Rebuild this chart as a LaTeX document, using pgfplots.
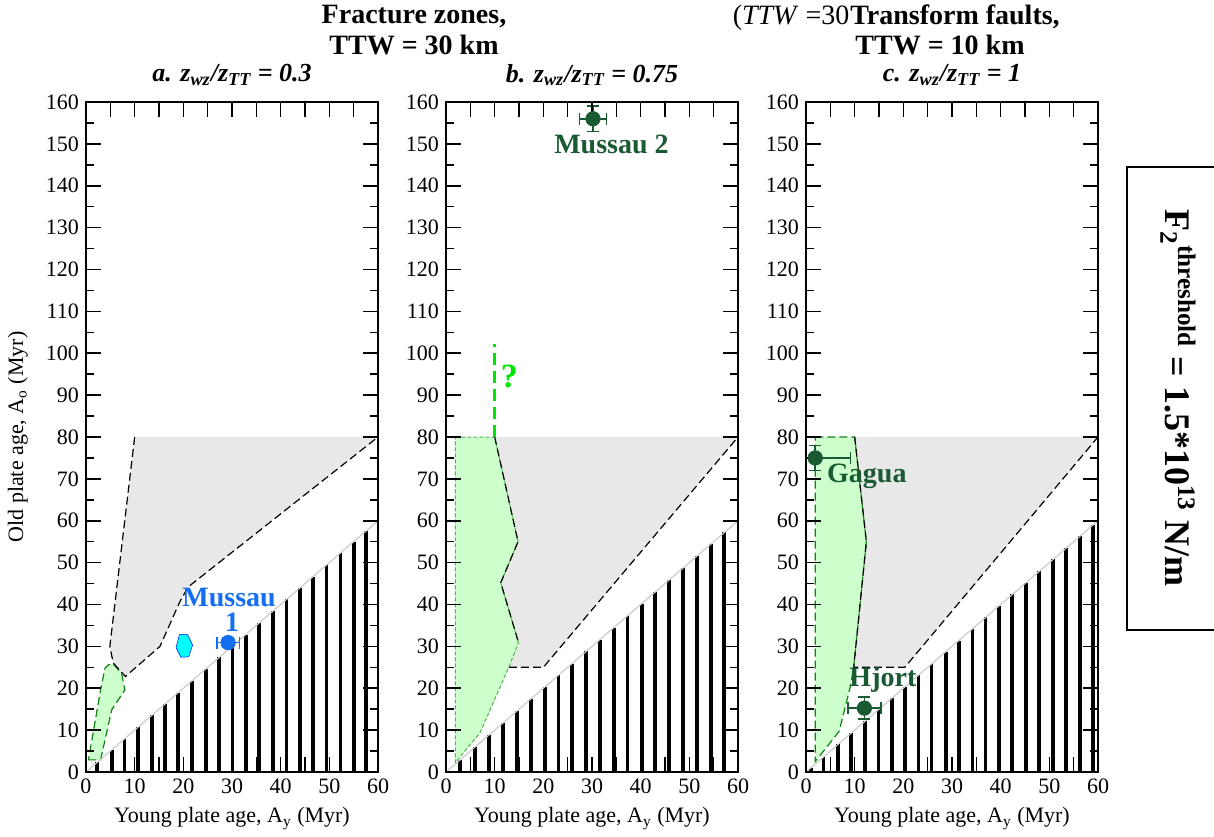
\documentclass[border=0pt]{standalone}
\usepackage{fontspec}
\setmainfont{Liberation Serif}
\usepackage{pgfplots}
\pgfplotsset{compat=1.18}
\definecolor{greyfill}{RGB}{232,232,232}
\definecolor{greenfill}{RGB}{204,255,204}
\definecolor{dkgreen}{RGB}{25,90,50}
\definecolor{bordergreen}{RGB}{20,130,20}
\definecolor{litegreen}{RGB}{80,180,80}
\definecolor{brightgreen}{RGB}{0,230,0}
\definecolor{myblue}{RGB}{20,110,240}
\definecolor{blobcyan}{RGB}{0,255,255}
\pgfplotsset{
  panel/.style={
    scale only axis, width=146pt, height=335pt,
    xmin=0, xmax=60, ymin=0, ymax=160,
    xtick={0,5,...,60}, xticklabels={0,,10,,20,,30,,40,,50,,60},
    ytick={0,10,...,160}, minor y tick num=1,
    major tick length=7.5pt, minor tick length=4pt,
    tick style={line width=0.8pt, black},
    axis line style={line width=1pt},
    tick label style={font=\fontsize{11}{13}\selectfont},
    /pgf/number format/assume math mode=true,
    xlabel={Young plate age, A\textsubscript{y} (Myr)},
    label style={font=\fontsize{11}{13}\selectfont},
    axis on top, clip=false,
  },
  bars/.style={ycomb, black, line width=1.9pt, mark=none},
  diag/.style={black!20, line width=0.6pt},
  bdash/.style={black, line width=0.6pt, dash pattern=on 4pt off 2pt},
  errs/.style={only marks, mark=*, mark size=3.6pt,
    error bars/.cd, x dir=both, x explicit, y dir=both, y explicit,
    error bar style={line width=0.8pt},
    error mark options={rotate=90, mark size=3pt, line width=0.8pt}},
}
\begin{document}
\begin{tikzpicture}
\useasboundingbox (0,0) rectangle (607pt,418pt);
% ---------------- panel a
\begin{axis}[panel, at={(43pt,32pt)}, anchor=south west,
  ylabel={Old plate age, A\textsubscript{o} (Myr)},
  ylabel style={at={(axis description cs:-0.233,0.5)}, anchor=center}]
\addplot[fill=greyfill, draw=none] coordinates {(10,80)(4.9,30)(5.6,26)(8.1,22.8)(15.2,30)(19.3,40.7)(21,44.2)(60,80)} -- cycle;
\addplot[fill=greenfill, draw=bordergreen, line width=0.6pt, dash pattern=on 4pt off 2pt] coordinates {(0.5,2.9)(3.0,2.9)(5.3,14.9)(8.0,19.6)(7.3,23.6)(5.6,25.8)(4.6,25.6)(3.9,24.8)(3.0,19.6)} -- cycle;
\addplot[bars] coordinates {(2.3,2.3)(5.3,5.3)(7.9,7.9)(10.7,10.7)(13.5,13.5)(16.2,16.2)(18.9,18.9)(21.7,21.7)(24.6,24.6)(27.4,27.4)(30.1,30.1)(32.8,32.8)(35.6,35.6)(38.4,38.4)(41.2,41.2)(43.9,43.9)(46.6,46.6)(49.4,49.4)(52.3,52.3)(55.0,55.0)(57.6,57.6)};
\addplot[diag] coordinates {(0,0)(60,60)};
\addplot[bdash] coordinates {(10,80)(4.9,30)(5.6,26)(8.1,22.8)(15.2,30)(19.3,40.7)(21,44.2)(60,80)};
\addplot[fill=blobcyan, draw=blue, line width=0.25pt] coordinates {(19.2,32.8)(20.9,32.8)(21.9,30.3)(21.1,27.5)(19.5,27.4)(18.5,29.7)} -- cycle;
\addplot[myblue, errs] coordinates {(29.2,30.9) +- (2.3,1.2)};
\node[myblue, font=\bfseries\fontsize{14}{14}\selectfont] at (axis cs:29.4,41.7) {Mussau};
\node[myblue, font=\bfseries\fontsize{14}{14}\selectfont] at (axis cs:30,35.7) {1};
\end{axis}
% ---------------- panel b
\begin{axis}[panel, at={(223pt,32pt)}, anchor=south west]
\addplot[fill=greyfill, draw=none] coordinates {(10,80)(14.8,55)(11.25,45.2)(14.9,30.9)(12.9,25)(20,25)(60,80)} -- cycle;
\addplot[fill=greenfill, draw=litegreen, line width=0.5pt, dash pattern=on 2pt off 1pt] coordinates {(1.9,80)(10,80)(14.8,55)(11.25,45.2)(14.9,30.9)(13,25.3)(7.0,9.4)(1.9,2.2)} -- cycle;
\addplot[bars] coordinates {(2.95,2.95)(6.0,6.0)(8.8,8.8)(11.7,11.7)(14.6,14.6)(17.4,17.4)(20.3,20.3)(23.1,23.1)(25.9,25.9)(28.8,28.8)(31.6,31.6)(34.5,34.5)(37.3,37.3)(40.2,40.2)(43.0,43.0)(45.9,45.9)(48.7,48.7)(51.5,51.5)(54.4,54.4)(57.2,57.2)};
\addplot[diag] coordinates {(0,0)(60,60)};
\addplot[bdash] coordinates {(10,80)(14.8,55)(11.25,45.2)(14.9,30.9)};
\addplot[bdash] coordinates {(12.9,25)(20,25)(60,80)};
\addplot[brightgreen, line width=1.2pt, dash pattern=on 6pt off 3pt] coordinates {(10,80)(10,102.3)};
\node[brightgreen, font=\bfseries\fontsize{17}{17}\selectfont] at (axis cs:13,94.5) {?};
\addplot[dkgreen, errs] coordinates {(30.2,156) +- (2.8,3)};
\node[dkgreen, font=\bfseries\fontsize{14}{14}\selectfont] at (axis cs:34,149.8) {Mussau 2};
\end{axis}
% ---------------- panel c
\begin{axis}[panel, at={(403pt,32pt)}, anchor=south west]
\addplot[fill=greyfill, draw=none] coordinates {(10,80)(12.4,55)(9.8,25)(20.3,25)(60,80)} -- cycle;
\addplot[fill=greenfill, draw=bordergreen, line width=0.6pt, dash pattern=on 4pt off 2pt] coordinates {(1.9,80)(10,80)(12.4,55)(9.8,25)(9.1,20.4)(6.8,9.7)(1.9,2.5)} -- cycle;
\addplot[bars] coordinates {(1.0,1.0)(3.6,3.6)(6.6,6.6)(9.3,9.3)(12.2,12.2)(14.9,14.9)(17.6,17.6)(20.4,20.4)(23.1,23.1)(25.8,25.8)(28.7,28.7)(31.4,31.4)(34.2,34.2)(36.9,36.9)(39.6,39.6)(42.4,42.4)(45.2,45.2)(47.9,47.9)(50.8,50.8)(53.5,53.5)(56.3,56.3)(59.0,59.0)};
\addplot[diag] coordinates {(0,0)(60,60)};
\addplot[bdash] coordinates {(10,80)(12.4,55)(9.8,25)(20.3,25)(60,80)};
\addplot[dkgreen, errs] coordinates {(1.9,75) += (7.2,3) -= (1.9,3) (12,15.25) +- (3.4,2.6)};
\node[dkgreen, font=\bfseries\fontsize{14}{14}\selectfont] at (axis cs:12.5,70.5) {Gagua};
\node[dkgreen, font=\bfseries\fontsize{14}{14}\selectfont] at (axis cs:15.8,22) {Hjort};
\end{axis}
% ---------------- titles
\node[font=\bfseries\fontsize{14}{14}\selectfont] at (207pt,409.5pt) {Fracture zones,};
\node[font=\bfseries\fontsize{14}{14}\selectfont] at (207pt,395.5pt) {TTW = 30 km};
\node[font=\bfseries\fontsize{14}{14}\selectfont, inner sep=0pt] (tf) at (477.5pt,409.5pt) {Transform faults,};
\node[font=\bfseries\fontsize{14}{14}\selectfont] at (470pt,395.5pt) {TTW = 10 km};
\node[font=\fontsize{14}{14}\selectfont, anchor=base east, inner sep=0pt] at (tf.base west) {(\textit{TTW} =30};
\node[font=\bfseries\itshape\fontsize{13}{13}\selectfont] at (116pt,380.5pt) {a. z\textsubscript{wz}/z\textsubscript{TT} = 0.3};
\node[font=\bfseries\itshape\fontsize{13}{13}\selectfont] at (296pt,380.5pt) {b. z\textsubscript{wz}/z\textsubscript{TT} = 0.75};
\node[font=\bfseries\itshape\fontsize{13}{13}\selectfont] at (476pt,380.5pt) {c. z\textsubscript{wz}/z\textsubscript{TT} = 1};
% ---------------- right box
\draw[line width=1pt] (563.5pt,103pt) rectangle (620pt,334.5pt);
\node[rotate=-90, font=\bfseries\fontsize{18}{18}\selectfont] at (589pt,219pt) {F\textsubscript{2}\textsuperscript{threshold} = 1.5*10\textsuperscript{13} N/m};
\end{tikzpicture}
\end{document}
